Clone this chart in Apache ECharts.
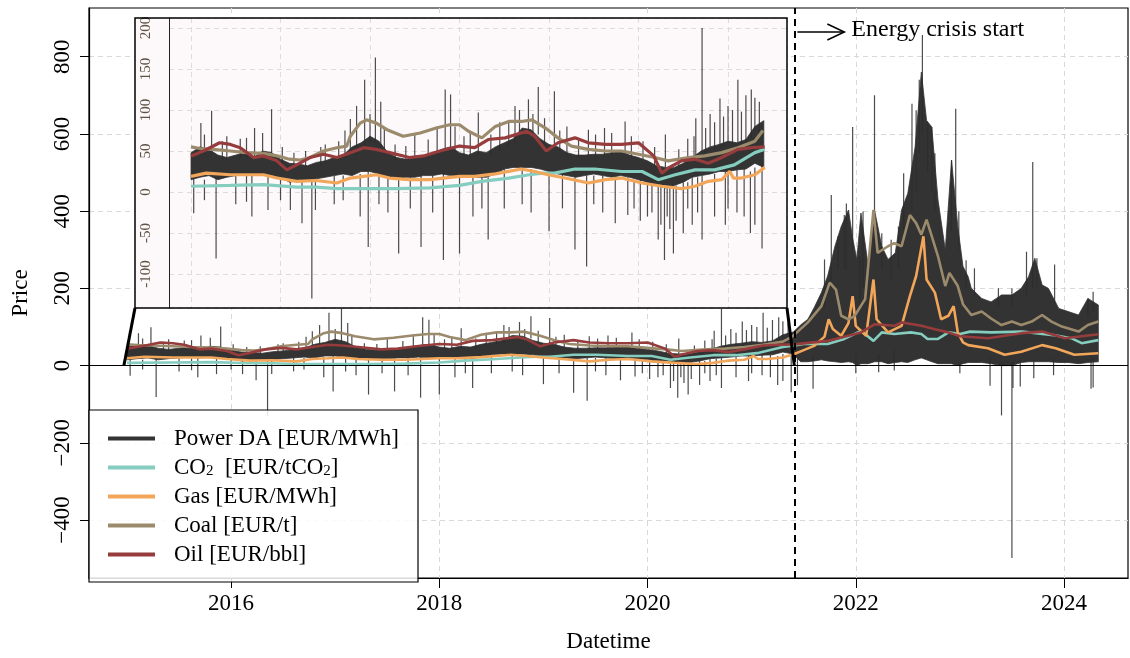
<!DOCTYPE html>
<html lang="en">
<head>
<meta charset="UTF-8">
<title>Power DA and fuel prices</title>
<script src="https://cdn.jsdelivr.net/npm/echarts@6/dist/echarts.min.js"></script>
<style>html,body{margin:0;background:#fff}#main{width:1130px;height:658px}</style>
</head>
<body>
<div id="main"></div>
<script>
var FONT = 'Liberation Serif';
var POWER = 'Power DA [EUR/MWh]', CO2 = 'CO2  [EUR/tCO2]', GAS = 'Gas [EUR/MWh]', COAL = 'Coal [EUR/t]', OIL = 'Oil [EUR/bbl]';
var crisisStart = 2021.41;
var xTicks = [2016, 2018, 2020, 2022, 2024];
var yTicks = [-400, -200, 0, 200, 400, 600, 800];
var insetYTicks = [-100, -50, 0, 50, 100, 150, 200];

// [decimal year, value]
var co2 = [[2015.0,7],[2015.44,8],[2015.81,9],[2016.18,6],[2016.4,6],[2016.63,4],[2016.93,4],[2017.3,4],[2017.67,5],[2018.0,8],
  [2018.25,13],[2018.55,17],[2018.78,21],[2018.93,23],[2019.06,23],[2019.29,28],[2019.51,28],[2019.81,25],[2020.04,25],[2020.22,15],
  [2020.41,21],[2020.63,27],[2020.85,27],[2021.07,33],[2021.3,48],[2021.41,52],[2021.5,56],[2021.73,56],[2021.89,69],[2022.05,90],
  [2022.17,64],[2022.25,86],[2022.37,82],[2022.53,86],[2022.63,82],[2022.69,69],[2022.79,69],[2022.89,86],[2023.0,82],[2023.1,88],
  [2023.3,86],[2023.6,88],[2023.9,79],[2024.07,71],[2024.17,58],[2024.33,66]];
var gas = [[2015.0,19],[2015.17,23],[2015.44,21],[2015.81,21],[2015.96,17],[2016.18,13],[2016.4,14],[2016.63,11],[2016.78,17],[2016.93,19],
  [2017.07,21],[2017.22,17],[2017.44,15],[2017.67,15],[2018.0,19],[2018.17,19],[2018.4,22],[2018.69,28],[2018.84,25],[2018.99,21],
  [2019.18,17],[2019.44,11],[2019.63,15],[2019.81,17],[2020.04,11],[2020.26,7],[2020.48,4],[2020.63,7],[2020.78,13],[2020.93,15],
  [2021.02,25],[2021.06,17],[2021.15,17],[2021.3,21],[2021.41,30],[2021.5,40],[2021.6,51],[2021.7,75],[2021.74,120],[2021.78,95],
  [2021.86,77],[2021.93,110],[2021.97,180],[2022.0,103],[2022.1,77],[2022.17,223],[2022.2,120],[2022.31,86],[2022.44,103],[2022.52,180],
  [2022.58,232],[2022.65,335],[2022.68,223],[2022.76,189],[2022.82,120],[2022.89,129],[2022.94,154],[2022.98,86],[2023.03,60],[2023.08,53],
  [2023.27,45],[2023.43,28],[2023.59,36],[2023.79,53],[2023.92,45],[2024.1,28],[2024.33,32]];
var coal = [[2015.0,55],[2015.1,53],[2015.25,52],[2015.44,50],[2015.62,48],[2015.81,47],[2015.96,44],[2016.1,40],[2016.22,39],[2016.33,42],
  [2016.48,50],[2016.63,54],[2016.74,56],[2016.78,68],[2016.89,84],[2016.96,88],[2017.07,84],[2017.19,76],[2017.37,68],[2017.56,72],
  [2017.74,78],[2017.89,82],[2018.0,82],[2018.1,74],[2018.25,66],[2018.4,80],[2018.55,86],[2018.69,86],[2018.81,88],[2018.96,78],
  [2019.1,66],[2019.25,56],[2019.44,52],[2019.63,50],[2019.81,50],[2020.0,46],[2020.18,42],[2020.33,38],[2020.56,42],[2020.74,44],
  [2020.93,48],[2021.11,54],[2021.3,62],[2021.39,75],[2021.54,112],[2021.67,154],[2021.75,215],[2021.81,197],[2021.86,129],[2021.93,120],
  [2021.99,129],[2022.09,172],[2022.17,403],[2022.21,292],[2022.31,309],[2022.37,317],[2022.44,309],[2022.52,390],[2022.58,369],[2022.63,339],
  [2022.68,378],[2022.73,335],[2022.79,283],[2022.86,206],[2022.9,240],[2022.98,206],[2023.03,159],[2023.11,131],[2023.21,140],[2023.3,122],
  [2023.4,105],[2023.5,114],[2023.59,105],[2023.69,114],[2023.79,131],[2023.88,114],[2023.98,101],[2024.14,88],[2024.23,105],[2024.33,114]];
var oil = [[2015.0,44],[2015.14,50],[2015.32,60],[2015.44,58],[2015.55,54],[2015.7,42],[2015.81,44],[2015.96,38],[2016.07,27],[2016.18,33],
  [2016.33,42],[2016.48,46],[2016.63,42],[2016.78,48],[2016.93,54],[2017.07,52],[2017.22,48],[2017.44,42],[2017.6,44],[2017.78,50],
  [2018.0,56],[2018.17,54],[2018.32,64],[2018.51,66],[2018.75,74],[2018.84,68],[2018.97,50],[2019.1,60],[2019.29,66],[2019.44,60],
  [2019.63,58],[2019.81,58],[2020.0,60],[2020.17,44],[2020.26,23],[2020.33,29],[2020.48,38],[2020.63,40],[2020.78,35],[2020.93,42],
  [2021.11,52],[2021.27,54],[2021.41,55],[2021.73,64],[2022.05,86],[2022.18,107],[2022.37,103],[2022.44,112],[2022.63,103],[2022.76,94],
  [2022.89,86],[2023.0,76],[2023.27,71],[2023.59,84],[2023.79,88],[2024.01,71],[2024.33,81]];

// dense day-ahead band: [decimal year, low, high]
var powerBand = [[2015.0,15,48],[2015.1,18,55],[2015.2,20,52],[2015.3,15,45],[2015.4,18,42],[2015.5,20,45],[2015.6,22,48],[2015.7,20,42],
  [2015.8,22,50],[2015.9,20,48],[2016.0,18,40],[2016.1,12,35],[2016.2,14,34],[2016.3,15,32],[2016.4,16,36],[2016.5,18,38],
  [2016.6,20,42],[2016.7,22,45],[2016.8,20,55],[2016.9,25,60],[2017.0,25,68],[2017.1,22,62],[2017.2,18,48],[2017.3,15,42],
  [2017.4,18,40],[2017.5,18,42],[2017.6,20,44],[2017.7,20,46],[2017.8,22,52],[2017.9,20,55],[2018.0,18,48],[2018.1,20,45],
  [2018.2,18,50],[2018.3,18,48],[2018.4,22,55],[2018.5,28,60],[2018.6,30,65],[2018.7,30,78],[2018.8,30,76],[2018.9,28,65],
  [2019.0,25,58],[2019.1,22,55],[2019.2,20,48],[2019.3,18,45],[2019.4,20,45],[2019.5,22,46],[2019.6,20,46],[2019.7,18,48],
  [2019.8,20,50],[2019.9,18,45],[2020.0,15,42],[2020.1,12,38],[2020.2,8,32],[2020.3,5,30],[2020.4,8,30],[2020.5,12,35],
  [2020.6,18,42],[2020.7,20,50],[2020.8,22,55],[2020.9,25,58],[2021.0,25,62],[2021.1,27,60],[2021.2,28,64],[2021.3,35,80],
  [2021.4,30,87],[2021.47,10,105],[2021.54,10,120],[2021.6,12,150],[2021.67,15,189],[2021.73,12,232],[2021.8,10,309],[2021.86,8,360],
  [2021.93,10,403],[2021.97,8,330],[2022.01,0,275],[2022.05,5,395],[2022.12,5,257],[2022.18,10,403],[2022.25,10,309],[2022.31,5,275],
  [2022.38,8,292],[2022.44,10,403],[2022.5,8,446],[2022.57,15,566],[2022.63,20,760],[2022.68,15,635],[2022.73,10,618],[2022.79,5,429],
  [2022.86,5,300],[2022.92,5,532],[2022.98,0,360],[2023.03,5,257],[2023.08,8,230],[2023.11,8,200],[2023.21,8,174],[2023.3,5,165],
  [2023.4,0,183],[2023.5,0,183],[2023.59,8,200],[2023.66,10,230],[2023.72,10,278],[2023.79,10,209],[2023.85,10,200],[2023.95,8,148],
  [2024.04,8,140],[2024.14,5,131],[2024.23,8,174],[2024.33,10,157]];

// single hours sticking out of the band: [decimal year, from, to]
var powerSpikes = [[2015.11,45,84],[2015.23,45,99],[2015.4,40,68],[2015.55,42,65],[2015.71,40,78],[2015.9,45,101],[2016.5,35,58],
  [2016.78,45,89],[2016.85,45,105],[2016.94,55,137],[2017.06,60,164],[2017.12,55,110],[2017.5,40,72],[2017.75,45,80],[2017.84,50,125],
  [2017.9,50,119],[2018.21,45,97],[2018.45,50,85],[2018.62,60,105],[2018.77,70,113],[2018.88,70,128],[2019.06,55,123],[2019.2,45,80],
  [2019.44,45,76],[2019.62,45,78],[2019.85,48,86],[2020.3,30,70],[2020.55,35,65],[2020.64,45,90],[2020.71,50,200],[2020.8,55,95],
  [2020.91,55,114],[2021.0,60,105],[2021.11,60,137],[2021.2,60,118],[2021.26,65,125],[2021.35,70,110],
  [2015.15,45,70],[2015.35,40,62],[2015.62,42,66],[2015.8,45,72],[2016.02,35,55],[2016.15,30,48],[2016.28,30,50],[2016.45,32,55],
  [2016.65,40,62],[2016.72,42,75],[2017.0,60,95],[2017.16,45,78],[2017.28,38,58],[2017.4,38,56],[2017.65,42,64],[2017.95,48,80],
  [2018.05,45,68],[2018.12,42,72],[2018.35,45,70],[2018.55,55,85],[2018.67,65,100],[2018.82,70,95],[2018.95,60,90],[2019.12,50,75],
  [2019.33,42,66],[2019.52,44,70],[2019.7,45,72],[2019.92,42,68],[2020.05,40,62],[2020.18,30,55],[2020.45,28,52],[2020.62,40,68],
  [2020.75,48,78],[2020.85,52,85],[2020.95,55,92],[2021.05,58,100],[2021.15,58,98],[2021.3,75,115],
  [2015.03,-26,20],[2015.28,-81,18],[2015.5,-15,20],[2015.68,-30,22],[2015.86,-22,22],[2016.11,-22,12],[2016.24,-38,14],[2016.35,-130,15],
  [2016.39,-22,16],[2016.6,-15,20],[2016.89,-30,22],[2016.98,-67,25],[2017.2,-25,18],[2017.32,-75,15],[2017.45,-20,18],[2017.57,-67,20],
  [2017.82,-83,22],[2018.0,-75,18],[2018.15,-30,20],[2018.32,-58,18],[2018.5,-20,28],[2018.7,-15,30],[2019.0,-48,25],[2019.15,-20,22],
  [2019.29,-70,18],[2019.42,-91,20],[2019.6,-25,20],[2019.74,-38,18],[2019.95,-20,15],[2020.1,-30,12],[2020.22,-58,8],[2020.29,-83,5],
  [2020.35,-45,6],[2020.39,-75,8],[2020.5,-50,12],[2020.6,-40,18],[2020.71,-58,20],[2020.85,-30,22],[2020.97,-40,25],[2021.1,-25,28],
  [2021.25,-50,25],[2021.3,-40,30],[2021.38,-69,35],
  [2015.15,-10,15],[2015.62,-12,20],[2016.0,-10,18],[2016.7,-10,20],[2017.1,-15,20],[2017.7,-25,20],[2018.25,-20,18],[2018.8,-25,28],
  [2019.5,-15,20],[2019.88,-28,18],[2020.02,-35,15],[2020.15,-25,10],[2020.25,-40,8],[2020.32,-30,5],[2020.42,-35,8],[2020.55,-20,12],
  [2020.66,-25,18],[2021.0,-20,25],[2021.18,-30,28],
  [2021.7,150,275],[2021.765,200,442],[2021.83,250,335],[2021.89,250,390],[2021.91,250,420],[2021.97,300,618],[2022.04,150,283],
  [2022.07,200,399],[2022.18,300,700],[2022.25,250,343],[2022.34,220,326],[2022.41,250,360],[2022.46,350,498],[2022.54,400,678],
  [2022.58,450,661],[2022.61,550,740],[2022.64,600,856],[2022.69,500,630],[2022.73,450,618],[2022.76,400,550],[2022.92,350,532],
  [2022.96,400,665],[2022.99,300,400],[2023.06,200,273],[2023.14,180,252],[2023.37,150,200],[2023.5,150,200],[2023.64,180,295],
  [2023.7,200,527],[2023.74,200,278],[2023.91,160,262],[2024.23,130,174],[2024.28,140,191],
  [2021.44,-51,20],[2021.59,-60,25],[2022.0,-20,30],[2022.22,-17,30],[2022.37,-13,40],[2023.0,-20,10],[2023.29,-52,20],
  [2023.4,-129,10],[2023.5,-498,10],[2023.51,-58,10],[2023.58,-54,15],[2023.71,-33,15],[2023.9,-25,20],[2024.26,-60,20],[2024.28,-57,20]];

var colors = {};
colors[POWER] = '#333333'; colors[CO2] = '#85cdbf'; colors[GAS] = '#f2a65a'; colors[COAL] = '#9b8b6c'; colors[OIL] = '#963c3c';

var INSET_FRAME = {x: 135, y: 18, w: 652, h: 290};

function upTo(arr, t) {
  return arr.filter(function (d) { return d[0] <= t; });
}

function spikeItem(params, api) {
  var a = api.coord([api.value(0), api.value(1)]);
  var b = api.coord([api.value(0), api.value(2)]);
  return {type: 'line', shape: {x1: a[0], y1: a[1], x2: b[0], y2: b[1]},
    style: {stroke: 'rgba(45,45,45,0.85)', lineWidth: 1.2}};
}

// the band is one polygon: upper edge left to right, lower edge back
function bandRenderer(rows) {
  return function (params, api) {
    if (params.dataIndex !== 0) return null;
    var pts = [];
    rows.forEach(function (r) { pts.push(api.coord([r[0], r[2]])); });
    rows.slice().reverse().forEach(function (r) { pts.push(api.coord([r[0], r[1]])); });
    return {type: 'polygon', shape: {points: pts},
      style: {fill: colors[POWER], stroke: colors[POWER], lineWidth: 0.8}};
  };
}

function buildSeries(g, band, spikes, lines, z, lw) {
  var out = [];
  out.push({name: POWER, type: 'custom', xAxisIndex: g, yAxisIndex: g, z: z, silent: true,
    itemStyle: {color: colors[POWER]}, data: band, encode: {x: 0, y: [1, 2]}, renderItem: bandRenderer(band)});
  out.push({name: 'power-spikes', type: 'custom', xAxisIndex: g, yAxisIndex: g, z: z, silent: true,
    data: spikes, encode: {x: 0, y: [1, 2]}, renderItem: spikeItem});
  [[CO2, lines.co2], [GAS, lines.gas], [COAL, lines.coal], [OIL, lines.oil]].forEach(function (p) {
    out.push({name: p[0], type: 'line', xAxisIndex: g, yAxisIndex: g, data: p[1], symbol: 'none', silent: true, z: z,
      itemStyle: {color: colors[p[0]]}, lineStyle: {color: colors[p[0]], width: lw}});
  });
  return out;
}

var mainSeries = buildSeries(0, powerBand, powerSpikes, {co2: co2, gas: gas, coal: coal, oil: oil}, 2, 2.6);
mainSeries[2].markLine = {silent: true, symbol: ['none', 'none'], label: {show: false}, animation: false,
  data: [{yAxis: 0, lineStyle: {color: '#000', width: 1, type: 'solid'}},
         {xAxis: crisisStart, lineStyle: {color: '#000', width: 2, type: [7, 5]}}]};

var cut = crisisStart + 0.02;
var insetSeries = buildSeries(1, upTo(powerBand, cut), upTo(powerSpikes, cut),
  {co2: upTo(co2, cut), gas: upTo(gas, cut), coal: upTo(coal, cut), oil: upTo(oil, cut)}, 7, 3.2);
insetSeries[2].markLine = {silent: true, symbol: ['none', 'none'], label: {show: false}, animation: false,
  data: [{yAxis: 0, lineStyle: {color: '#000', width: 1, type: 'solid'}}]};

function minus(v) { return v < 0 ? '\u2212' + (-v) : String(v); }

var myChart = echarts.init(document.getElementById('main'));
var option = {
  animation: false,
  backgroundColor: '#fff',
  textStyle: {fontFamily: FONT},
  grid: [
    {left: 89, top: 8, right: 2, bottom: 76, show: true, borderColor: '#000', borderWidth: 1.2, backgroundColor: 'transparent'},
    {left: 169, top: 18, width: 618, height: 290, show: false}
  ],
  xAxis: [
    {gridIndex: 0, type: 'value', min: 2014.635, max: 2024.615, minInterval: 1, maxInterval: 1,
      axisLine: {show: true, onZero: false, lineStyle: {color: '#000', width: 1.2}},
      axisTick: {show: true, customValues: xTicks, length: 10, lineStyle: {color: '#000'}},
      axisLabel: {customValues: xTicks, fontSize: 23, fontFamily: FONT, color: '#000', margin: 14,
        formatter: function (v) { return String(v); }},
      splitLine: {show: true, lineStyle: {color: '#d9d9d9', type: [5, 4]}},
      name: 'Datetime', nameLocation: 'middle', nameGap: 52,
      nameTextStyle: {fontSize: 23, fontFamily: FONT, color: '#000'}},
    {gridIndex: 1, type: 'value', min: 2014.754, max: 2021.659, minInterval: 1, maxInterval: 1, z: 6,
      axisLine: {show: false, onZero: false}, axisTick: {show: false}, axisLabel: {show: false},
      splitLine: {show: true, lineStyle: {color: '#dcdcdc', type: [5, 4]}}}
  ],
  yAxis: [
    {gridIndex: 0, type: 'value', min: -550, max: 926, minInterval: 100, maxInterval: 100,
      axisLine: {show: true, onZero: false, lineStyle: {color: '#000', width: 1.2}},
      axisTick: {show: true, customValues: yTicks, length: 9, lineStyle: {color: '#000'}},
      axisLabel: {customValues: yTicks, rotate: 90, fontSize: 23, fontFamily: FONT, color: '#000', margin: 15, formatter: minus},
      splitLine: {show: true, lineStyle: {color: '#d9d9d9', type: [5, 4]}},
      name: 'Price', nameLocation: 'middle', nameGap: 57,
      nameTextStyle: {fontSize: 23, fontFamily: FONT, color: '#000'}},
    {gridIndex: 1, type: 'value', min: -141.5, max: 212.2, minInterval: 50, maxInterval: 50, z: 6,
      axisLine: {show: true, onZero: false, lineStyle: {color: '#222', width: 1}},
      axisTick: {show: false},
      axisLabel: {customValues: insetYTicks, rotate: 90, fontSize: 15, fontFamily: FONT, color: '#5f5244', margin: 15},
      splitLine: {show: true, lineStyle: {color: '#dcdcdc', type: [5, 4]}}}
  ],
  legend: {
    orient: 'vertical', left: 89, top: 410, z: 9, padding: [17, 14, 18, 19], itemGap: 6,
    itemWidth: 47, itemHeight: 4, icon: 'rect', selectedMode: false,
    textStyle: {fontFamily: FONT, fontSize: 23, color: '#000', padding: [0, 0, 0, 14],
      rich: {sub: {fontFamily: FONT, fontSize: 15, color: '#000', verticalAlign: 'bottom'}}},
    formatter: function (name) { return name.replace(/CO2/g, 'CO{sub|2}'); },
    data: [POWER, CO2, GAS, COAL, OIL].map(function (n) { return {name: n, itemStyle: {color: colors[n]}}; })
  },
  series: mainSeries.concat(insetSeries)
};
myChart.setOption(option);

var crisisPx = myChart.convertToPixel({xAxisIndex: 0, yAxisIndex: 0}, [crisisStart, 0]);
var startPx = myChart.convertToPixel({xAxisIndex: 0, yAxisIndex: 0}, [2014.97, 0]);
var arrowY = 32, tipX = crisisPx[0] + 50;
myChart.setOption({
  graphic: [
    {type: 'rect', z: 5, silent: true, shape: {x: INSET_FRAME.x, y: INSET_FRAME.y, width: INSET_FRAME.w, height: INSET_FRAME.h},
      style: {fill: '#fdf9fa', stroke: null}},
    {type: 'rect', z: 8, silent: true, shape: {x: INSET_FRAME.x, y: INSET_FRAME.y, width: INSET_FRAME.w, height: INSET_FRAME.h},
      style: {fill: null, stroke: '#000', lineWidth: 1.5}},
    {type: 'line', z: 8, silent: true, shape: {x1: startPx[0], y1: startPx[1], x2: INSET_FRAME.x, y2: INSET_FRAME.y + INSET_FRAME.h},
      style: {stroke: '#000', lineWidth: 3}},
    {type: 'line', z: 8, silent: true, shape: {x1: crisisPx[0], y1: crisisPx[1], x2: INSET_FRAME.x + INSET_FRAME.w, y2: INSET_FRAME.y + INSET_FRAME.h},
      style: {stroke: '#000', lineWidth: 3}},
    {type: 'rect', z: 8, silent: true, shape: {x: 89, y: 410, width: 329, height: 172},
      style: {fill: 'rgba(255,255,255,0.85)', stroke: '#000', lineWidth: 1.2}},
    {type: 'line', z: 9, silent: true, shape: {x1: crisisPx[0] + 3, y1: arrowY, x2: tipX, y2: arrowY},
      style: {stroke: '#000', lineWidth: 1.5}},
    {type: 'polyline', z: 9, silent: true, shape: {points: [[tipX - 17, arrowY - 8], [tipX, arrowY], [tipX - 17, arrowY + 8]]},
      style: {stroke: '#000', lineWidth: 1.5, fill: null}},
    {type: 'text', z: 9, silent: true, x: tipX + 7, y: arrowY - 2,
      style: {text: 'Energy crisis start', fontFamily: FONT, fontSize: 24, fill: '#000', verticalAlign: 'middle', align: 'left'}}
  ]
});
</script>
</body>
</html>
